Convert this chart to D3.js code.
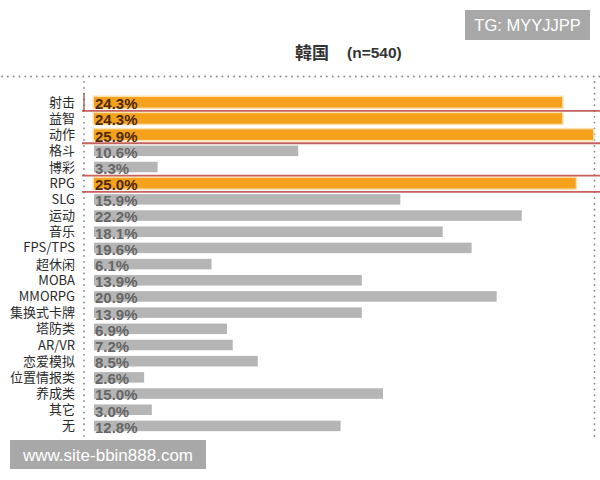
<!DOCTYPE html>
<html><head><meta charset="utf-8">
<script src="https://cdn.jsdelivr.net/npm/d3@7/dist/d3.min.js"></script>
<style>
html,body{margin:0;padding:0;background:#fff;}
svg{display:block;}
</style></head>
<body>
<svg id="chart" width="600" height="480"></svg>
<script>
const categories = ["射击","益智","动作","格斗","博彩","RPG","SLG","运动","音乐","FPS/TPS","超休闲","MOBA","MMORPG","集换式卡牌","塔防类","AR/VR","恋爱模拟","位置情报类","养成类","其它","无"];
const values = [24.3,24.3,25.9,10.6,3.3,25.0,15.9,22.2,18.1,19.6,6.1,13.9,20.9,13.9,6.9,7.2,8.5,2.6,15.0,3.0,12.8];
const highlighted = ["射击","益智","动作","RPG"];
const separatorsAfter = ["射击","动作","博彩","RPG"];
const titleMain = "韓国";
const titleSub = "(n=540)";
const watermarkTop = "TG: MYYJJPP";
const watermarkBottom = "www.site-bbin888.com";

const svg = d3.select("#chart");
const data = categories.map((c,i)=>({cat:c, val:values[i], hi: highlighted.includes(c)}));

const x = d3.scaleLinear().domain([0, 25.9]).range([94, 593]);
const y = d3.scaleBand().domain(categories).range([94.2, 434]).paddingInner(0.35).paddingOuter(0.175);
const step = y.step();

// dotted frame
const dot = {stroke:"#8a8a8a", w:1.8, dash:"0.1,5.7"};
function dotted(x1,y1,x2,y2){
  svg.append("line").attr("x1",x1).attr("y1",y1).attr("x2",x2).attr("y2",y2)
    .attr("stroke",dot.stroke).attr("stroke-width",dot.w)
    .attr("stroke-dasharray",dot.dash).attr("stroke-linecap","round");
}
dotted(2, 76.5, 600, 76.5);
dotted(84, 82, 84, 436);
dotted(594.5, 82, 594.5, 438);

// title
const title = svg.append("text").attr("x", 295).attr("y", 59)
  .attr("font-family","'Liberation Sans','Noto Sans CJK SC',sans-serif")
  .attr("font-weight","bold").attr("fill","#333");
title.append("tspan").attr("font-size",17).text(titleMain);
title.append("tspan").attr("x",347).attr("y",58).attr("font-size",15.5).text(titleSub);

// bars glow for highlighted
svg.append("g").selectAll("rect").data(data.filter(d=>d.hi)).join("rect")
  .attr("x", x(0)-1.5).attr("y", d=>y(d.cat)-1.5)
  .attr("width", d=>x(d.val)-x(0)+3).attr("height", y.bandwidth()+3)
  .attr("fill","#fcd99a").attr("opacity",0.8);

svg.append("g").selectAll("rect").data(data).join("rect")
  .attr("x", x(0)).attr("y", d=>y(d.cat))
  .attr("width", d=>x(d.val)-x(0)).attr("height", y.bandwidth())
  .attr("fill", d=>d.hi ? "#f5a11c" : "#b5b5b5");

// separator red lines
svg.append("g").selectAll("line").data(separatorsAfter).join("line")
  .attr("x1", 82).attr("x2", 600)
  .attr("y1", d=>y(d)+y.bandwidth()+(step-y.bandwidth())/2+0.5)
  .attr("y2", d=>y(d)+y.bandwidth()+(step-y.bandwidth())/2+0.5)
  .attr("stroke","#c0504d").attr("stroke-width",1.8).attr("opacity",0.9);
// short solid axis piece at top
svg.append("line").attr("x1",84).attr("x2",84).attr("y1",93).attr("y2",111)
  .attr("stroke","#8c4a4a").attr("stroke-width",1.2);

// category labels
svg.append("g").selectAll("text").data(data).join("text")
  .attr("x", 75).attr("y", d=>y(d.cat)+y.bandwidth()/2-1)
  .attr("dominant-baseline","central").attr("text-anchor","end")
  .attr("font-family","'Liberation Sans Narrow','Noto Sans CJK SC',sans-serif")
  .attr("font-size",13).attr("fill","#2a2a2a").text(d=>d.cat);

// value labels
svg.append("g").selectAll("text").data(data).join("text")
  .attr("x", 95).attr("y", d=>y(d.cat)+y.bandwidth()+1.6)
  .attr("font-family","'Liberation Sans',sans-serif")
  .attr("font-size",15).attr("font-weight","bold")
  .attr("fill", d=>d.hi ? "#4e2a0c" : "#666")
  .text(d=>d.val.toFixed(1)+"%");

// watermarks
svg.append("rect").attr("x",465).attr("y",10).attr("width",125).attr("height",30).attr("fill","#a8a8a8");
svg.append("text").attr("x",527.5).attr("y",31).attr("text-anchor","middle")
  .attr("font-family","'Liberation Sans',sans-serif").attr("font-size",16.5).attr("fill","#fff").text(watermarkTop);
svg.append("rect").attr("x",10).attr("y",440).attr("width",196).attr("height",29).attr("fill","#a8a8a8");
svg.append("text").attr("x",108).attr("y",461).attr("text-anchor","middle")
  .attr("font-family","'Liberation Sans',sans-serif").attr("font-size",17).attr("fill","#fff").text(watermarkBottom);
</script>
</body></html>
